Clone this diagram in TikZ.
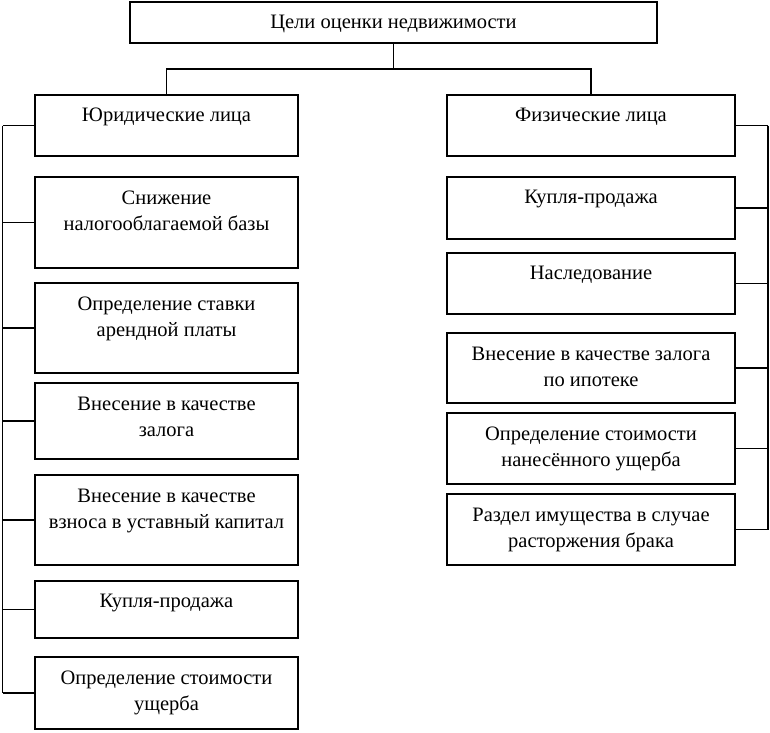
\documentclass[tikz,border=0pt]{standalone}
\usepackage{fontspec}
\setmainfont{Liberation Serif}
\usepackage{tikz}
\usetikzlibrary{positioning,calc}

\begin{document}
\begin{tikzpicture}[
    x=1pt, y=-1pt,
    goal/.style={rectangle, draw, line width=1.2pt, anchor=north west, inner sep=0pt, outer sep=0pt},
    lgoal/.style={goal, minimum width=263pt},
    rgoal/.style={goal, minimum width=288pt},
    txt/.style={anchor=north, align=center, inner sep=0pt, yshift=-7.5pt, font=\fontsize{20.5}{26.5}\selectfont, execute at begin node=\strut},
    txt2/.style={txt, yshift=-6pt},
    link/.style={line width=1.2pt}
]
\useasboundingbox (0,0) rectangle (770,732);

% Root
\node[goal, minimum width=527pt, minimum height=41pt, label={[txt, yshift=-0.5pt]north:Цели оценки недвижимости}] (root) at (130,2) {};

% Legal entities
\node[lgoal, minimum height=61pt, label={[txt]north:Юридические лица}] (jur) at (35,95) {};
\node[lgoal, minimum height=91pt, label={[txt2]north:Снижение\\налогооблагаемой базы}] (j1) at (35,177) {};
\node[lgoal, minimum height=90pt, label={[txt2]north:Определение ставки\\арендной платы}] (j2) at (35,283) {};
\node[lgoal, minimum height=76pt, label={[txt2]north:Внесение в качестве\\залога}] (j3) at (35,383) {};
\node[lgoal, minimum height=90pt, label={[txt2]north:Внесение в качестве\\взноса в уставный капитал}] (j4) at (35,475) {};
\node[lgoal, minimum height=57pt, label={[txt]north:Купля-продажа}] (j5) at (35,581) {};
\node[lgoal, minimum height=72pt, label={[txt2]north:Определение стоимости\\ущерба}] (j6) at (35,657) {};

% Individuals
\node[rgoal, minimum height=61pt, label={[txt]north:Физические лица}] (fiz) at (447,95) {};
\node[rgoal, minimum height=62pt, label={[txt]north:Купля-продажа}] (f1) at (447,177) {};
\node[rgoal, minimum height=61pt, label={[txt]north:Наследование}] (f2) at (447,253) {};
\node[rgoal, minimum height=70pt, label={[txt2]north:Внесение в качестве залога\\по ипотеке}] (f3) at (447,333) {};
\node[rgoal, minimum height=71pt, label={[txt2]north:Определение стоимости\\нанесённого ущерба}] (f4) at (447,413) {};
\node[rgoal, minimum height=71pt, label={[txt2]north:Раздел имущества в случае\\расторжения брака}] (f5) at (447,494) {};

% Connections
\coordinate (split) at (393.5,69);
\coordinate (lbar) at (2.5,0);
\coordinate (rbar) at (768,0);
\draw[link] (root.south) -- (split);
\draw[link] (split) -| (jur.north);
\draw[link] (split) -| (fiz.north);

\foreach \n in {jur,j1,j2,j3,j4,j5,j6}
    \draw[link] (\n.west) -- (\n.west -| lbar);
\draw[link] (jur.west -| lbar) -- (j6.west -| lbar);

\foreach \n in {fiz,f1,f2,f3,f4,f5}
    \draw[link] (\n.east) -- (\n.east -| rbar);
\draw[link] (fiz.east -| rbar) -- (f5.east -| rbar);

\end{tikzpicture}
\end{document}
